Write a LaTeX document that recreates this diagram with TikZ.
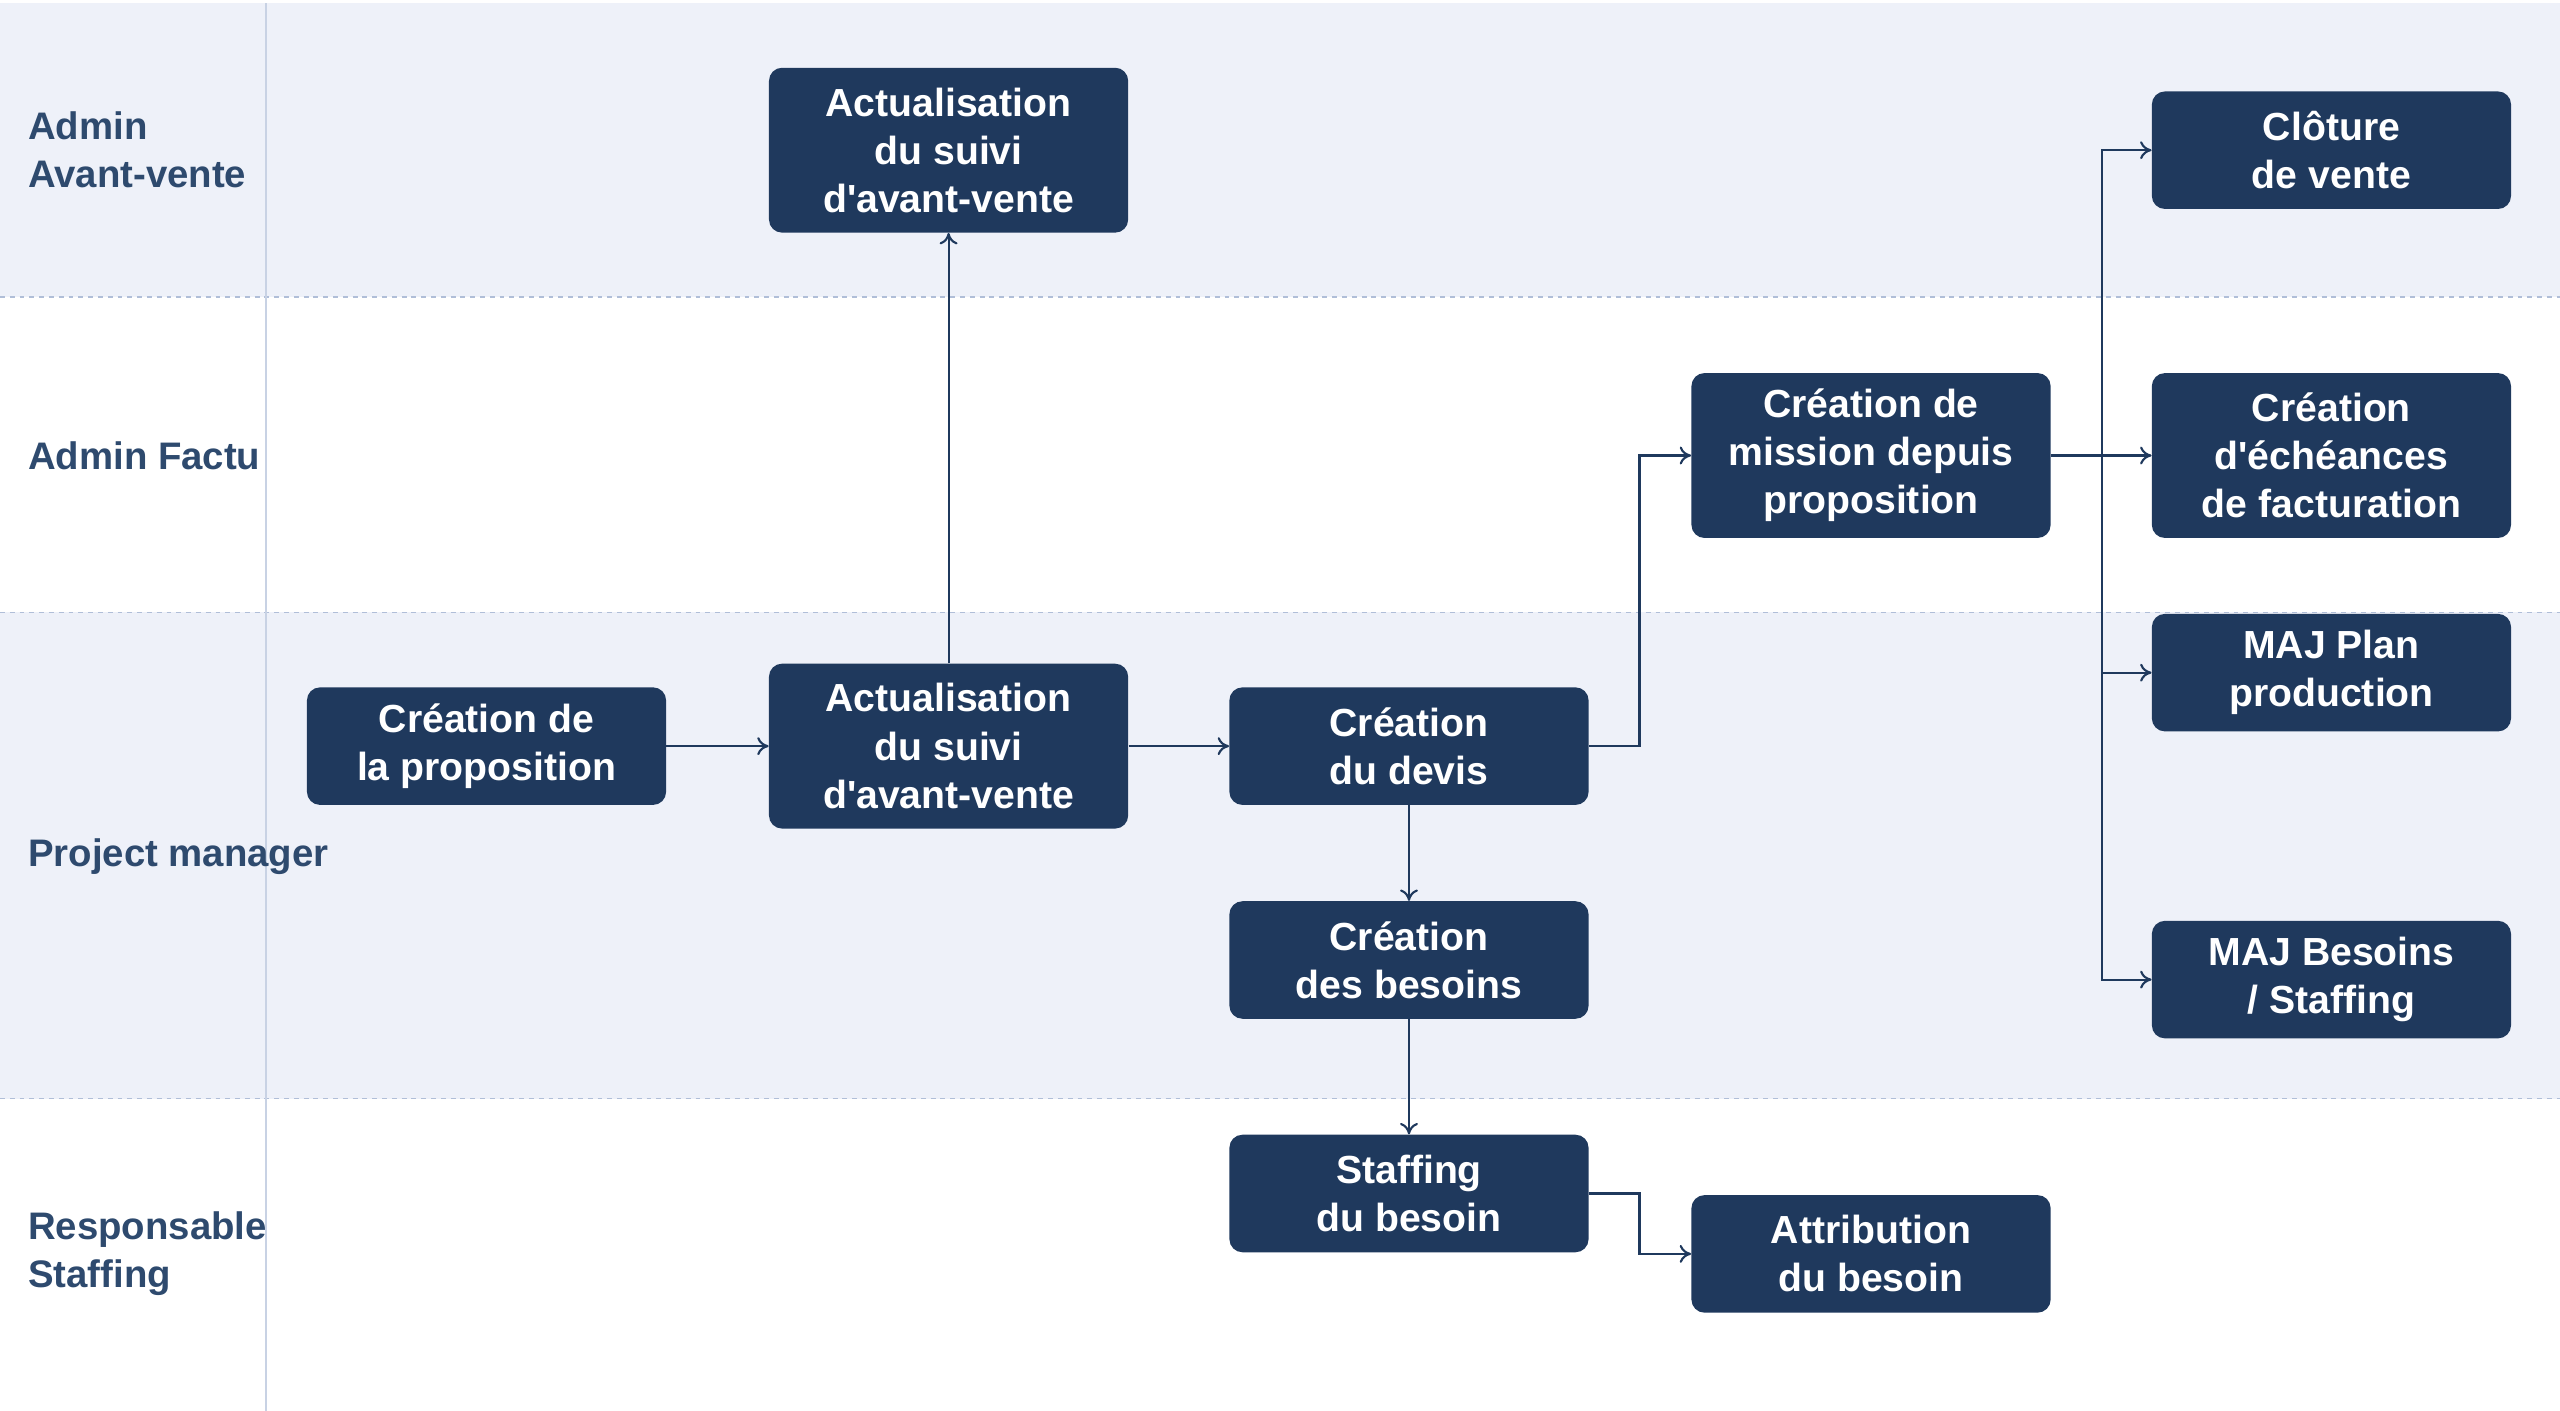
\documentclass[tikz,border=0pt]{standalone}
\usepackage{fontspec}
\setmainfont{Liberation Sans}
\definecolor{mynavy}{RGB}{31,57,93}
\definecolor{mylanefill}{RGB}{238,241,249}
\definecolor{mydash}{RGB}{176,190,216}
\definecolor{mylabel}{RGB}{46,74,110}
\usetikzlibrary{arrows.meta,positioning,calc}

\begin{document}
\begin{tikzpicture}[
  x=1pt, y=-1pt,
  mybox/.style={
    draw=none,
    fill=mynavy,
    rounded corners=8pt,
    minimum width=220pt,
    minimum height=#1,
    align=center,
    text=white,
    font=\fontsize{24}{29.5}\selectfont\bfseries,
    inner sep=2pt
    },
  mybox/.default=72pt,
  lanelabel/.style={font=\fontsize{23.5}{29.5}\selectfont\bfseries, text=mylabel, align=left, anchor=west, inner sep=0pt},
  myarrow/.style={draw=mynavy, line width=1.3pt, -{To[length=7pt,width=11pt]}}
]
% lanes
\useasboundingbox (0,0) rectangle (1568,864);
\fill[mylanefill] (0,2) rectangle (1568,182);
\fill[mylanefill] (0,375) rectangle (1568,673);
\foreach \y in {182,375,673}
  \draw[mydash, dashed, line width=0.8pt] (0,\y) -- (1568,\y);
\draw[mydash!70, line width=0.8pt] (163,2) -- (163,864);

\node[lanelabel] (laneA) at (17,92) {Admin\\Avant-vente};
\node[lanelabel] (laneF) at (17,279) {Admin Factu};
\node[lanelabel] (laneP) at (17,525) {Project manager};
\node[lanelabel] (laneS) at (17,768) {Responsable\\Staffing};

% boxes
\node[mybox=101pt] (suivitop) at (581,92) {Actualisation\\du suivi\\d\textquotesingle avant-vente};
\node[mybox] (propo) at (298,457) {Création de\\la proposition};
\node[mybox=101pt] (suivi) at (581,457) {Actualisation\\du suivi\\d\textquotesingle avant-vente};
\node[mybox] (devis) at (863,457) {Création\\du devis};
\node[mybox] (besoins) at (863,588) {Création\\des besoins};
\node[mybox] (staffing) at (863,731) {Staffing\\du besoin};
\node[mybox] (attrib) at (1146,768) {Attribution\\du besoin};
\node[mybox=101pt] (mission) at (1146,279) {Création de\\mission depuis\\proposition};
\node[mybox] (cloture) at (1428,92) {Clôture\\de vente};
\node[mybox=101pt] (echeances) at (1428,279) {Création\\d\textquotesingle échéances\\de facturation};
\node[mybox] (plan) at (1428,412) {MAJ Plan\\production};
\node[mybox] (majbesoins) at (1428,600) {MAJ Besoins\\/ Staffing};

% connectors
\draw[myarrow] (propo) -- (suivi);
\draw[myarrow] (suivi) -- (devis);
\draw[myarrow] (suivi) -- (suivitop);
\draw[myarrow] (devis) -- (besoins);
\draw[myarrow] (besoins) -- (staffing);
\draw[myarrow] (devis.east) -- ++(31,0) |- (mission.west);
\draw[myarrow] (staffing.east) -- ++(31,0) |- (attrib.west);
\draw[myarrow] (mission) -- (echeances);
\coordinate (trunk) at ($(mission.east)+(31,0)$);
\draw[myarrow] (trunk) |- (cloture.west);
\draw[myarrow] (trunk) |- (plan.west);
\draw[myarrow] (trunk) |- (majbesoins.west);
\end{tikzpicture}
\end{document}
